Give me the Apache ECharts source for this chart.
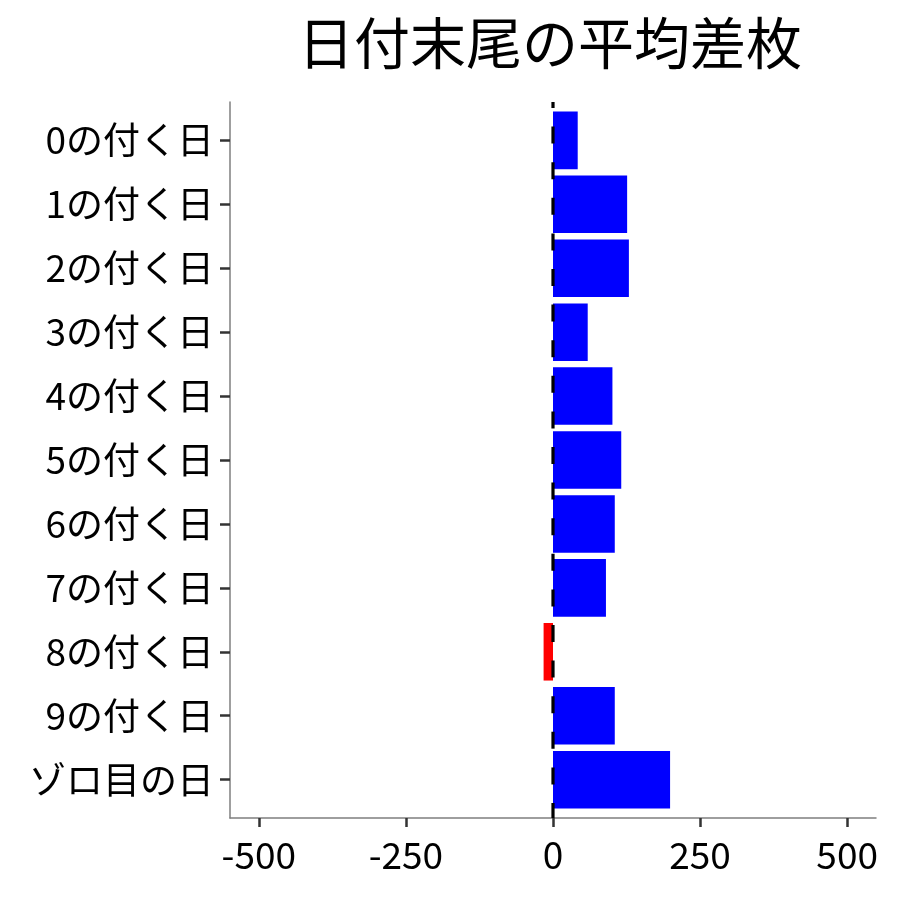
<!DOCTYPE html>
<html><head><meta charset="utf-8">
<script src="https://cdn.jsdelivr.net/npm/echarts@6/dist/echarts.min.js"></script>
<style>html,body{margin:0;padding:0;background:#fff}#c{width:900px;height:900px}</style>
</head><body><div id="c"></div>
<script>
const title = '日付末尾の平均差枚';
const categories = ['0の付く日','1の付く日','2の付く日','3の付く日','4の付く日','5の付く日','6の付く日','7の付く日','8の付く日','9の付く日','ゾロ目の日'];
const values = [42, 126, 129, 59, 101, 116, 105, 90, -16, 105, 199];
const xTicks = [-500, -250, 0, 250, 500];
const posColor = '#0000FF';
const negColor = '#FF0000';

const FONT = '"Noto Sans CJK JP", "Noto Sans", sans-serif';
const chart = echarts.init(document.getElementById('c'), null, {renderer: 'canvas'});
const barData = values.map((v, i) => [v, i]);
chart.setOption({
  animation: false,
  backgroundColor: '#fff',
  title: {
    text: title, left: 545, top: 10, textAlign: 'center',
    textStyle: {fontFamily: FONT, fontSize: 56, fontWeight: 'normal', color: '#000'}
  },
  grid: {left: 230, right: 24, top: 102, bottom: 82, containLabel: false},
  xAxis: {
    type: 'value', min: -549, max: 549,
    splitLine: {show: false},
    axisLine: {show: true, onZero: false, lineStyle: {color: '#7f7f7f', width: 1.5}},
    axisTick: {show: true, length: 9, customValues: xTicks, lineStyle: {color: '#333', width: 2.5}},
    axisLabel: {customValues: xTicks, margin: 18, fontFamily: FONT, fontSize: 37, color: '#000'}
  },
  yAxis: {
    type: 'value', inverse: true, min: -0.6, max: 10.6,
    splitLine: {show: false},
    axisLine: {show: true, onZero: false, lineStyle: {color: '#7f7f7f', width: 1.5}},
    axisTick: {show: true, length: 10, customValues: categories.map((c, i) => i), lineStyle: {color: '#333', width: 2.5}},
    axisLabel: {customValues: categories.map((c, i) => i), margin: 16, fontFamily: FONT, fontSize: 37, color: '#000',
      formatter: v => categories[Math.round(v)] || ''}
  },
  series: [
    {
      type: 'custom',
      data: barData,
      encode: {x: 0, y: 1},
      renderItem: function (params, api) {
        const v = api.value(0), idx = api.value(1);
        const p0 = api.coord([0, idx]);
        const p1 = api.coord([v, idx]);
        const h = Math.abs(api.size([0, 0.9])[1]);
        const x = Math.min(p0[0], p1[0]);
        return {
          type: 'rect',
          shape: {x: x, y: p0[1] - h / 2, width: Math.abs(p1[0] - p0[0]), height: h},
          style: {fill: v >= 0 ? posColor : negColor}
        };
      },
      z: 2
    },
    {
      type: 'line',
      data: [[0, -0.6], [0, 10.6]],
      symbol: 'none',
      lineStyle: {color: '#000', width: 3.2, type: [17, 18.6], dashOffset: 11},
      z: 3
    }
  ]
});
</script></body></html>
